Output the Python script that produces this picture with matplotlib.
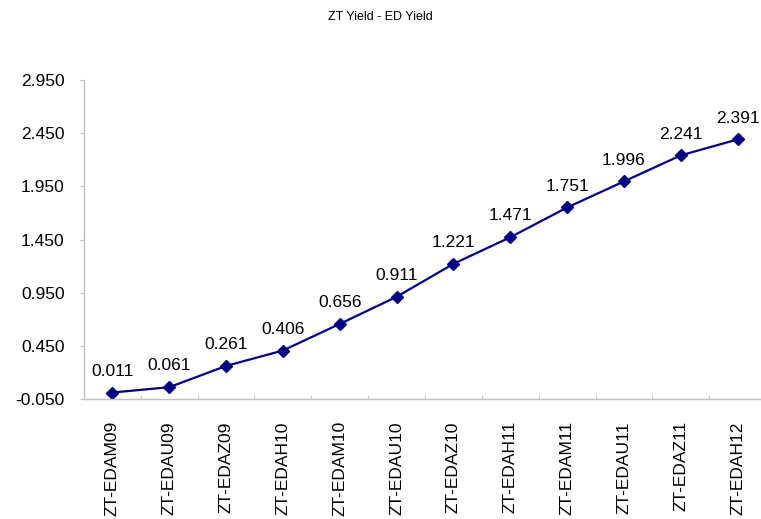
import matplotlib.pyplot as plt

plt.rcParams['font.family'] = ['Liberation Sans', 'DejaVu Sans']

# Spread between ZT and ED yields per contract
contracts = ['ZT-EDAM09', 'ZT-EDAU09', 'ZT-EDAZ09', 'ZT-EDAH10', 'ZT-EDAM10', 'ZT-EDAU10',
             'ZT-EDAZ10', 'ZT-EDAH11', 'ZT-EDAM11', 'ZT-EDAU11', 'ZT-EDAZ11', 'ZT-EDAH12']
spread = [0.011, 0.061, 0.261, 0.406, 0.656, 0.911, 1.221, 1.471, 1.751, 1.996, 2.241, 2.391]
yticks = [-0.05, 0.45, 0.95, 1.45, 1.95, 2.45, 2.95]

fig = plt.figure(figsize=(7.61, 5.19), dpi=100)
ax = fig.add_axes([84 / 761, 120 / 519, 682 / 761, 319 / 519])

x = list(range(len(contracts)))
ax.plot(x, spread, color='#000080', linewidth=1.6, marker='D', markersize=6.5,
        markerfacecolor='#000080', markeredgecolor='#000080')

for xi, v in zip(x, spread):
    ax.annotate(f'{v:.3f}', (xi, v), xytext=(0, 10), textcoords='offset points',
                ha='center', va='bottom', fontsize=12.5)

ax.set_xlim(-0.5, len(contracts) - 0.5)
ax.set_ylim(-0.05, 2.95)
ax.set_yticks(yticks)
ax.set_yticklabels([f'{t:.3f}' for t in yticks], fontsize=12.5)

ax.set_xticks(x)
ax.set_xticklabels(contracts, rotation=90, fontsize=12.5)
ax.tick_params(axis='x', length=0, pad=16)
ax.set_xticks([i + 0.5 for i in x[:-1]], minor=True)
ax.tick_params(axis='x', which='minor', direction='in', length=3, color='#c0c0c0')
ax.tick_params(axis='y', direction='out', length=3, color='#c0c0c0', pad=11)

for side in ['top', 'right']:
    ax.spines[side].set_visible(False)
for side in ['left', 'bottom']:
    ax.spines[side].set_color('#c0c0c0')
    ax.spines[side].set_linewidth(1)

fig.text(0.5, 0.968, 'ZT Yield - ED Yield', ha='center', va='center', fontsize=9)

fig.savefig('out.png', dpi=100)
